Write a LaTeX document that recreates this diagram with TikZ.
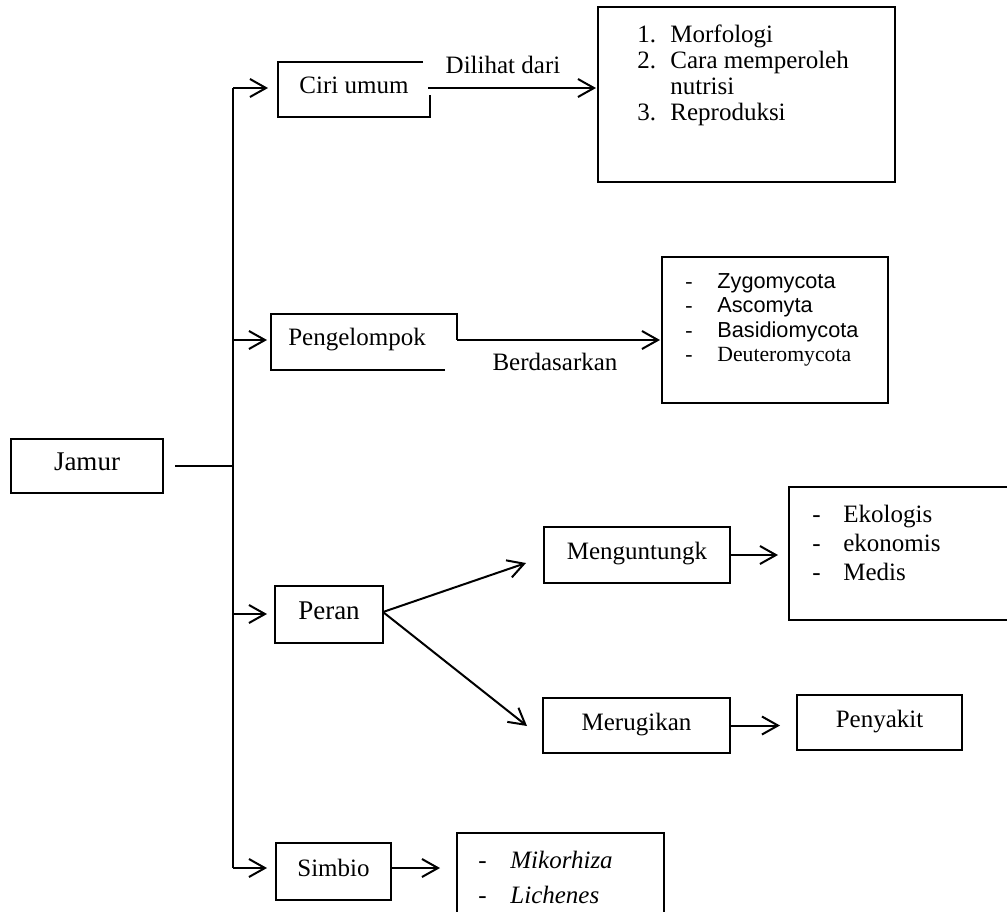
\documentclass[tikz,border=0pt]{standalone}
\usepackage{fontspec}
\setmainfont{Liberation Serif}
\newfontfamily\arialfont{Liberation Sans}
\usetikzlibrary{arrows.meta}
\begin{document}
\begin{tikzpicture}[x=0.5pt,y=-0.5pt,
  box/.style={draw,line width=0.75pt,inner sep=0pt,text height=0.7em,text depth=0.22em,font=\fontsize{12.5}{15}\selectfont},
  bigtext/.style={font=\fontsize{13.5}{16}\selectfont},
  edge/.style={line width=0.75pt},
  conn/.style={line width=1pt},
  arr/.style={conn,-{Straight Barb[length=8pt,width=9pt]}},
  txt/.style={inner sep=0pt,text height=0.7em,text depth=0.22em,font=\fontsize{12.5}{15}\selectfont},
  lst/.style={inner sep=0pt,anchor=base west,font=\fontsize{12.5}{15}\selectfont},
  slst/.style={inner sep=0pt,anchor=base west,font=\fontsize{10.85}{13}\selectfont},
]
\useasboundingbox (0,0) rectangle (1007,911);

% Jamur and trunk
\node[box,bigtext,minimum width=76pt,minimum height=27pt] (jamur) at (87,466) {Jamur};
\coordinate (j0) at (175,466);
\coordinate (tj) at (233,466);
\draw[conn] (j0) -- (tj);
\coordinate (t1) at (233,88);
\coordinate (t2) at (233,340);
\coordinate (t3) at (233,614);
\coordinate (t4) at (233,868);
\draw[conn] (t1) -- (t4);

% Ciri umum
\node[txt] (ciri) at (354,89) {Ciri umum};
\draw[edge] (423,62) -- (278,62) -- (278,117) -- (430,117) -- (430,95);
\coordinate (ciriTip) at (268,88);
\draw[arr] (t1) -- (ciriTip);
\coordinate (ciriOut) at (428,88);
\coordinate (ciriListTip) at (596,88);
\draw[arr] (ciriOut) -- (ciriListTip);
\node[txt] (dilihat) at (503,69) {Dilihat dari};
\node[box,minimum width=148.5pt,minimum height=87.5pt] (cirilist) at (746.5,94.5) {};
\node[lst] (c1) at (637,42) {\makebox[16.5pt][l]{1.}Morfologi};
\node[lst] (c2) at (637,68) {\makebox[16.5pt][l]{2.}Cara memperoleh};
\node[lst] (c3) at (670,94) {nutrisi};
\node[lst] (c4) at (637,120) {\makebox[16.5pt][l]{3.}Reproduksi};

% Pengelompok
\node[txt] (peng) at (357,341) {Pengelompok};
\draw[edge] (445,370) -- (271,370) -- (271,314) -- (457,314) -- (457,340);
\coordinate (pengTip) at (267,340);
\draw[arr] (t2) -- (pengTip);
\coordinate (pengOut) at (457,340);
\coordinate (pengListTip) at (660,340);
\draw[arr] (pengOut) -- (pengListTip);
\node[txt] (berdas) at (555,366) {Berdasarkan};
\node[box,minimum width=113pt,minimum height=73pt] (penglist) at (775,330) {};
\node[slst] (g1) at (685,288) {\makebox[16pt][l]{-}{\arialfont Zygomycota}};
\node[slst] (g2) at (685,312.5) {\makebox[16pt][l]{-}{\arialfont Ascomyta}};
\node[slst] (g3) at (685,337) {\makebox[16pt][l]{-}{\arialfont Basidiomycota}};
\node[slst] (g4) at (685,361.5) {\makebox[16pt][l]{-}Deuteromycota};

% Peran
\node[box,bigtext,minimum width=54pt,minimum height=28.5pt] (peran) at (329,614.5) {Peran};
\coordinate (peranTip) at (267,614);
\draw[arr] (t3) -- (peranTip);
\coordinate (peranOut) at (383,612);
\coordinate (mengTip) at (526,563);
\coordinate (merugTip) at (527,726);
\draw[arr] (peranOut) -- (mengTip);
\draw[arr] (peranOut) -- (merugTip);

% Menguntungkan
\node[box,minimum width=93pt,minimum height=28pt] (meng) at (637,555) {Menguntungk};
\coordinate (mengListTip) at (778,555);
\draw[arr] (meng.east) -- (mengListTip);
\draw[edge] (1008,487) -- (789,487) -- (789,620) -- (1008,620);
\node[lst] (m1) at (812,522) {\makebox[15.5pt][l]{-}Ekologis};
\node[lst] (m2) at (812,551) {\makebox[15.5pt][l]{-}ekonomis};
\node[lst] (m3) at (812,580) {\makebox[15.5pt][l]{-}Medis};

% Merugikan
\node[box,minimum width=93.5pt,minimum height=27.5pt] (merug) at (636.5,725.5) {Merugikan};
\node[box,minimum width=82.5pt,minimum height=27.5pt] (penyakit) at (879.5,722.5) {Penyakit};
\coordinate (penyTip) at (780,725.5);
\draw[arr] (merug.east) -- (penyTip);

% Simbio
\node[box,minimum width=57.5pt,minimum height=28.5pt] (simbio) at (333.5,871.5) {Simbio};
\coordinate (simbioTip) at (267,868);
\draw[arr] (t4) -- (simbioTip);
\coordinate (simbioOut) at (391,868);
\coordinate (simbioListTip) at (440,868);
\draw[arr] (simbioOut) -- (simbioListTip);
\draw[edge] (457,915) -- (457,833) -- (664,833) -- (664,915);
\node[lst] (s1) at (478,868) {\makebox[16pt][l]{-}\textit{Mikorhiza}};
\node[lst] (s2) at (478,903) {\makebox[16pt][l]{-}\textit{Lichenes}};
\end{tikzpicture}
\end{document}
